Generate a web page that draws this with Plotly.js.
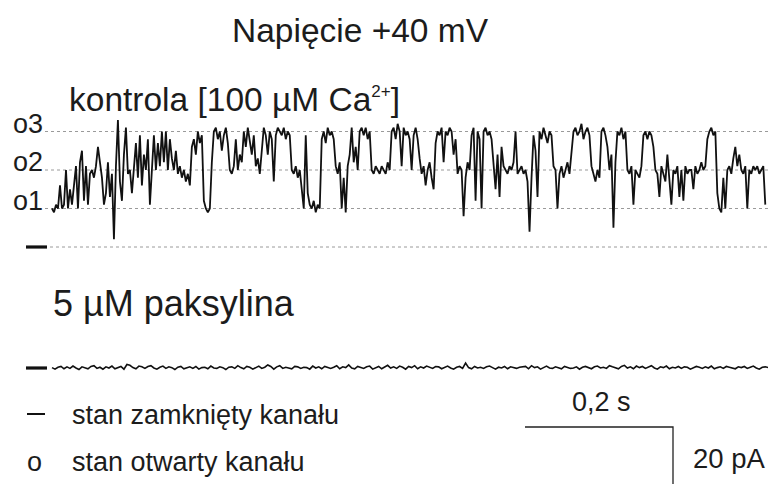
<!DOCTYPE html>
<html lang="pl">
<head>
<meta charset="utf-8">
<title>Napięcie +40 mV</title>
<script src="https://cdn.plot.ly/plotly-3.0.1.min.js"></script>
<style>
  html, body { margin: 0; padding: 0; background: #ffffff; }
  #chart { width: 768px; height: 484px; }
</style>
</head>
<body>
<div id="chart"></div>
<script>
// Single-channel current, control recording [100 µM Ca2+], pA (one sample per step)
const controlCurrent = [
  10, 9, 11, 10, 16, 10, 11, 20, 10, 15,
  11, 17, 21, 10, 22, 25, 12, 21, 11, 19,
  20, 18, 21, 26, 22, 18, 11, 14, 22, 13,
  19, 2, 21, 33, 17, 12, 24, 31, 19, 20,
  14, 21, 27, 18, 29, 16, 24, 20, 28, 11,
  22, 29, 20, 27, 21, 30, 22, 30, 20, 28,
  23, 20, 25, 19, 21, 18, 20, 17, 19, 16,
  26, 28, 24, 30, 27, 29, 12, 10, 9, 10,
  22, 30, 31, 28, 30, 25, 29, 31, 27, 20,
  19, 21, 28, 20, 24, 22, 30, 26, 31, 28,
  24, 29, 21, 23, 19, 25, 31, 29, 24, 30,
  28, 17, 29, 31, 30, 29, 31, 28, 30, 29,
  20, 19, 21, 18, 20, 15, 10, 29, 14, 11,
  10, 12, 9, 11, 10, 28, 30, 27, 31, 29,
  30, 28, 21, 19, 22, 10, 18, 9, 21, 24,
  31, 22, 26, 20, 30, 31, 29, 31, 28, 30,
  20, 19, 21, 20, 19, 21, 20, 19, 22, 20,
  30, 31, 28, 32, 30, 21, 31, 29, 30, 28,
  20, 29, 31, 28, 23, 19, 21, 16, 20, 22,
  18, 15, 27, 30, 29, 31, 22, 30, 29, 31,
  30, 24, 28, 19, 21, 20, 8, 18, 22, 20,
  29, 31, 12, 30, 28, 10, 30, 31, 29, 30,
  28, 20, 15, 24, 13, 26, 21, 20, 19, 21,
  20, 22, 30, 19, 20, 21, 19, 20, 17, 4,
  18, 29, 25, 13, 30, 28, 31, 29, 27, 30,
  29, 21, 20, 10, 19, 21, 18, 20, 22, 19,
  24, 30, 31, 29, 30, 32, 28, 30, 31, 29,
  21, 19, 17, 20, 18, 30, 31, 29, 26, 20,
  24, 5, 22, 30, 29, 31, 28, 30, 20, 19,
  21, 11, 20, 19, 18, 21, 29, 30, 28, 30,
  29, 26, 20, 19, 13, 21, 19, 17, 24, 18,
  11, 20, 19, 21, 13, 20, 12, 21, 19, 20,
  20, 15, 21, 19, 20, 22, 20, 21, 28, 30,
  31, 29, 30, 14, 10, 9, 18, 10, 20, 21,
  19, 23, 26, 21, 24, 20, 19, 21, 10, 20,
  19, 21, 20, 21, 19, 20, 21, 11
];

// Current after 5 µM paxilline, pA
const paxillineCurrent = [
  0.1, -0.3, 0.2, 0.4, -0.2, 0.3, -0.1, 0.5, 0.0, -0.4, 0.3, 0.1,
  -0.2, 0.4, 0.6, -0.1, 0.2, -0.3, 0.3, 0.0, 0.5, -0.2, 0.1, 0.4,
  -0.3, 0.9, 0.7, 0.1, -0.2, 0.5, 0.3, -0.1, 0.4, 0.6, 0.0, -0.3,
  0.2, 0.5, -0.1, 0.3, 0.1, -0.4, 0.2, 0.4, -0.2, 0.0, 0.3, -0.1,
  0.4, -0.3, 0.1, 0.2, -0.2, 0.5, 0.0, -0.1, 0.3, 0.1, -0.4, 0.2,
  0.3, -0.1, 0.6, 0.1, -0.2, 0.4, 0.2, -0.3, 0.1, 0.5, -0.1, 0.2,
  0.8, 0.4, -0.3, 0.3, 0.6, -0.1, 0.2, 0.0, -0.2, 0.4, 0.3, -0.1,
  0.2, 0.1, -0.3, 0.5, 0.0, 0.3, -0.2, 0.4, 0.1, -0.1, 0.2, 0.6,
  -0.2, 0.3, 0.1, 0.8, 0.0, -0.2, 0.4, 0.2, -0.1, 0.3, 0.5, -0.3,
  0.1, 0.4, -0.2, 0.2, 0.7, 0.0, 0.3, -0.1, 0.5, 0.2, -0.3, 0.4,
  0.1, 0.6, -0.2, 0.3, 0.0, 0.5, 0.2, -0.1, 0.4, 0.3, -0.2, 0.1,
  0.5, 0.0, -0.3, 0.2, 0.4, -0.1, 1.3, 0.1, -0.2, 0.4, 0.0, 0.2,
  -0.1, 0.3, 0.5, 0.1, -0.3, 0.2, 0.0, 0.4, -0.2, 0.3, 0.1, -0.1,
  0.2, 0.3, 0.4, -0.2, 0.6, 0.1, 0.3, -0.3, 0.2, 0.5, 0.0, -0.1,
  0.3, 0.1, -0.2, 0.4, 0.2, -0.1, 0.0, 0.3, -0.3, 0.2, 0.4, 0.1,
  -0.2, 0.3, 0.5, 0.0, 0.2, -0.1, 0.6, 0.3, 0.1, -0.2, 0.4, 0.7,
  0.0, 0.3, -0.2, 0.5, 0.1, 0.4, -0.1, 0.2, 0.6, 0.0, -0.3, 0.3,
  0.1, 0.5, -0.2, 0.2, 0.0, 0.4, -0.1, 0.3, 0.2, -0.3, 0.1, 0.4,
  0.2, -0.1, 0.3, 0.0, 0.5, -0.2, 0.1, 0.3, -0.1, 0.4, 0.2, 0.0,
  -0.2, 0.3, 0.1, 0.4, -0.1, 0.2, 0.5, 0.0, -0.3, 0.2, 0.3, 0.1
];

// Channel conductance levels (closed, o1, o2, o3), pA
const levelCurrents = [0, 10, 20, 30];
const levelLabels = ['', 'o1', 'o2', 'o3'];

// Scale bar sizes
const scaleTime = 0.2;      // s
const scaleCurrent = 20;    // pA
const scaleTimeLabel = '0,2 s';
const scaleCurrentLabel = '20 pA';

// Sampling intervals of the two sweeps, s
const dtControl = 0.0027;
const dtPaxilline = 0.00405;

const FONT = 'Liberation Sans, Arial, Helvetica, sans-serif';
const INK = '#1c1c1c';

const tControl = controlCurrent.map((_, i) => i * dtControl);
const tPaxilline = paxillineCurrent.map((_, i) => i * dtPaxilline);

// Axis scaling: 740 px per second, 3.85 px per pA
const W = 768, H = 484;
const pxPerS = 740, pxPerPA = 3.85;
const x0px = 52;
const xRange = [-x0px / pxPerS, (W - x0px) / pxPerS];
const topZeroPx = 247, bottomZeroPx = 368;
const yRange = [(topZeroPx - H) / pxPerPA, topZeroPx / pxPerPA];
const y2Range = [(bottomZeroPx - H) / pxPerPA, bottomZeroPx / pxPerPA];

const traces = [
  {
    x: tControl, y: controlCurrent, type: 'scatter', mode: 'lines',
    xaxis: 'x', yaxis: 'y',
    line: { color: '#111111', width: 1.8 },
    hoverinfo: 'skip'
  },
  {
    x: tPaxilline, y: paxillineCurrent, type: 'scatter', mode: 'lines',
    xaxis: 'x', yaxis: 'y2',
    line: { color: '#111111', width: 1.6 },
    hoverinfo: 'skip'
  }
];

const shapes = [];
// dotted level lines
levelCurrents.forEach((lv, i) => {
  shapes.push({
    type: 'line', xref: 'paper', yref: 'y',
    x0: (i === 0 ? 50 : 45) / W, x1: 1, y0: lv, y1: lv,
    line: { color: '#9a9a9a', width: 1, dash: 'dot' }, layer: 'below'
  });
});
// closed-state markers for both sweeps
shapes.push({ type: 'line', xref: 'paper', yref: 'y', x0: 26 / W, x1: 47 / W, y0: 0, y1: 0,
  line: { color: '#111', width: 3.2 } });
shapes.push({ type: 'line', xref: 'paper', yref: 'y2', x0: 26 / W, x1: 47 / W, y0: 0, y1: 0,
  line: { color: '#111', width: 3.2 } });
// legend mark for the closed state
shapes.push({ type: 'line', xref: 'paper', yref: 'paper', x0: 27 / W, x1: 45 / W,
  y0: 1 - 414 / H, y1: 1 - 414 / H, line: { color: '#111', width: 2 } });
// scale bars (time and current)
const barT1 = (673 - x0px) / pxPerS;
const barT0 = barT1 - scaleTime;
const barI = (bottomZeroPx - 427) / pxPerPA;
shapes.push({ type: 'path', xref: 'x', yref: 'y2',
  path: `M ${barT0} ${barI} L ${barT1} ${barI} L ${barT1} ${barI - scaleCurrent}`,
  line: { color: '#222', width: 1.3 } });

const txt = (text, x, y, size, anchor, extra) => Object.assign({
  text, x, y, xref: 'paper', yref: 'paper', showarrow: false,
  xanchor: anchor || 'left', yanchor: 'middle',
  font: { family: FONT, size, color: INK }
}, extra || {});

const annotations = [
  txt('Napięcie +40 mV', 360 / W, 1 - 30 / H, 33.5, 'center'),
  txt('kontrola [100 µM Ca<sup><span style="font-size:17px">2+</span></sup>]', 67 / W, 1 - 100 / H, 33.5, 'left'),
  txt('5 µM paksylina', 51 / W, 1 - 303 / H, 36, 'left'),
  txt('stan zamknięty kanału', 70 / W, 1 - 415 / H, 27, 'left'),
  txt('o', 25 / W, 1 - 462 / H, 27, 'left'),
  txt('stan otwarty kanału', 70 / W, 1 - 462 / H, 27, 'left'),
  txt(scaleTimeLabel, 601 / W, 1 - 402 / H, 27, 'center'),
  txt(scaleCurrentLabel, 691 / W, 1 - 458 / H, 27.5, 'left')
];
levelCurrents.forEach((lv, i) => {
  if (!levelLabels[i]) return;
  annotations.push({
    text: levelLabels[i], x: 45 / W, y: lv, xref: 'paper', yref: 'y',
    xanchor: 'right', yanchor: 'middle', yshift: 8, showarrow: false,
    font: { family: FONT, size: 27, color: INK }
  });
});

const hidden = { visible: false, showgrid: false, zeroline: false, fixedrange: true };

const layout = {
  width: W, height: H,
  margin: { l: 0, r: 0, t: 0, b: 0, pad: 0 },
  paper_bgcolor: '#ffffff', plot_bgcolor: '#ffffff',
  showlegend: false,
  xaxis: Object.assign({ range: xRange }, hidden),
  yaxis: Object.assign({ range: yRange }, hidden),
  yaxis2: Object.assign({ range: y2Range, overlaying: 'y' }, hidden),
  shapes, annotations
};

Plotly.newPlot('chart', traces, layout, { staticPlot: true, displayModeBar: false });
</script>
</body>
</html>
